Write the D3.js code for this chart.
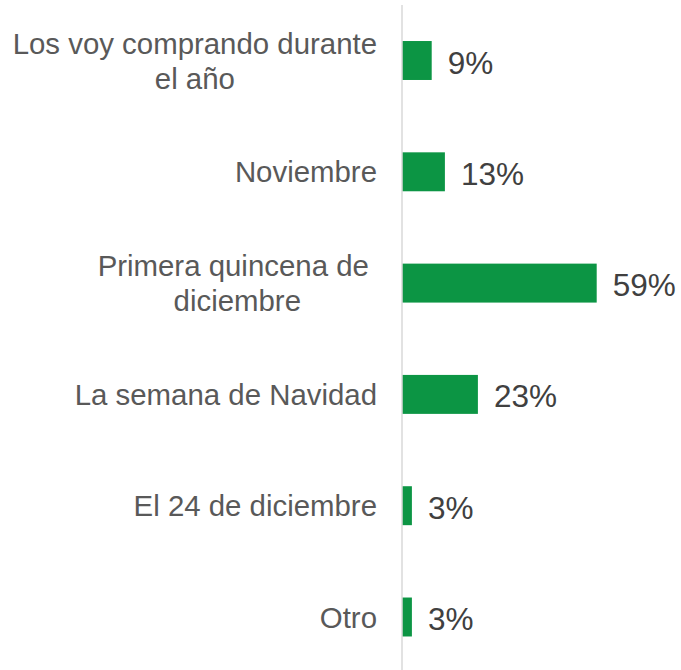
<!DOCTYPE html>
<html>
<head>
<meta charset="utf-8">
<script src="https://cdn.jsdelivr.net/npm/d3@7"></script>
<style>
  html, body { margin: 0; padding: 0; background: #ffffff; }
  svg { display: block; }
  text { font-family: "Liberation Sans", Arial, sans-serif; white-space: pre; }
</style>
</head>
<body>
<script>
// Data
const categories = [
  "Los voy comprando durante el año",
  "Noviembre",
  "Primera quincena de diciembre",
  "La semana de Navidad",
  "El 24 de diciembre",
  "Otro"
];
const categoryLines = [
  ["Los voy comprando durante", "el año"],
  ["Noviembre"],
  ["Primera quincena de ", "diciembre"],
  ["La semana de Navidad"],
  ["El 24 de diciembre"],
  ["Otro"]
];
const values = [0.09, 0.13, 0.59, 0.23, 0.03, 0.03];
const valueLabels = ["9%", "13%", "59%", "23%", "3%", "3%"];

const W = 681, H = 670;
const axisX = 402;
const svg = d3.select("body").append("svg").attr("width", W).attr("height", H);

const y = d3.scaleBand()
  .domain(categories)
  .range([4.85, 672.65])
  .paddingInner(0.65)
  .paddingOuter(0.325);

const x = d3.scaleLinear().domain([0, 0.6]).range([axisX, axisX + 198]);

// bars
svg.append("g").selectAll("rect")
  .data(categories)
  .join("rect")
  .attr("x", x(0))
  .attr("y", d => y(d))
  .attr("width", (d, i) => x(values[i]) - x(0))
  .attr("height", y.bandwidth())
  .attr("fill", "#0c9544");

// axis line
svg.append("line")
  .attr("x1", axisX).attr("x2", axisX)
  .attr("y1", 5).attr("y2", 670)
  .attr("stroke", "#d9d9d9")
  .attr("stroke-width", 1.5);

// value labels
svg.append("g").selectAll("text")
  .data(categories)
  .join("text")
  .attr("x", (d, i) => x(values[i]) + 16)
  .attr("y", d => y(d) + y.bandwidth() / 2 + 13)
  .attr("font-size", 31.5)
  .attr("fill", "#404040")
  .text((d, i) => valueLabels[i]);

// category labels
const labelRight = 377;
const lineH = 35;
const catG = svg.append("g");
categories.forEach((c, i) => {
  const lines = categoryLines[i];
  const cy = y(c) + y.bandwidth() / 2;
  const t = catG.append("text")
    .attr("font-size", 29.4)
    .attr("fill", "#595959")
    .attr("text-anchor", "middle");
  const tspans = lines.map((ln, k) => t.append("tspan")
    .attr("y", cy + 10.5 + (k - (lines.length - 1) / 2) * lineH)
    .text(ln));
  let maxW = 0;
  tspans.forEach(ts => { maxW = Math.max(maxW, ts.node().getComputedTextLength()); });
  tspans.forEach(ts => ts.attr("x", labelRight - maxW / 2));
});
</script>
</body>
</html>
